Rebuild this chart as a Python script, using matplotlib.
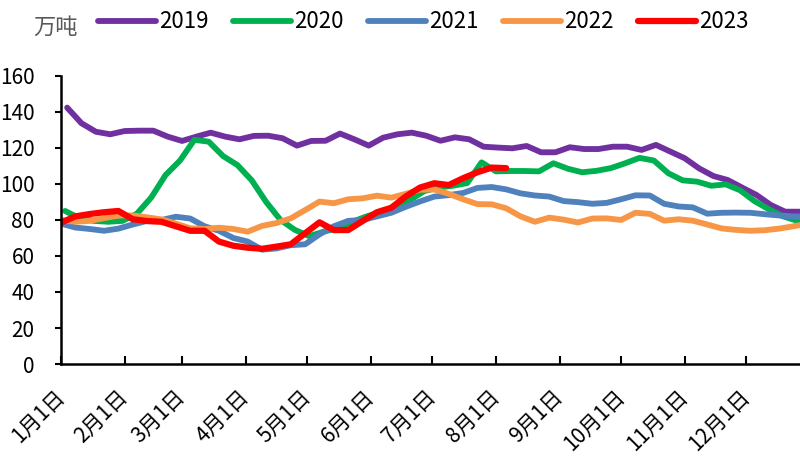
import matplotlib
matplotlib.use('Agg')
from matplotlib import pyplot as plt
import numpy as np

plt.rcParams['font.family'] = ['Noto Sans CJK SC', 'DejaVu Sans']

# weekly inventory, 万吨
years = ['2019', '2020', '2021', '2022', '2023']
colors = ['#7030A0', '#00B050', '#4F81BD', '#F79646', '#FF0000']
start_day = [3, 2, 0, 0, 0]   # day of year of first weekly point

v2019 = [142.4, 133.7, 129.0, 127.6, 129.4, 129.6, 129.6, 126.3, 123.9, 126.3,
         128.5, 126.3, 124.8, 126.7, 126.8, 125.4, 121.3, 123.9, 124.0, 128.0,
         124.8, 121.3, 125.7, 127.6, 128.5, 126.8, 124.0, 125.9, 124.8, 120.7,
         120.2, 119.8, 121.1, 117.6, 117.6, 120.4, 119.4, 119.4, 120.7, 120.7,
         118.9, 121.7, 118.0, 114.3, 108.7, 104.4, 102.2, 98.0, 93.9, 88.3,
         84.6, 84.6]
v2020 = [85.0, 81.0, 79.5, 79.0, 79.5, 83.5, 92.5, 105.0, 113.0, 124.5,
         123.5, 115.5, 110.5, 102.0, 90.0, 80.0, 74.5, 71.0, 73.5, 75.5,
         79.0, 82.0, 84.5, 86.5, 91.0, 96.0, 98.0, 99.0, 100.5, 112.0,
         107.0, 107.2, 107.2, 107.0, 111.5, 108.5, 106.5, 107.3, 108.8, 111.5,
         114.5, 113.0, 106.0, 102.0, 101.3, 99.0, 99.8, 96.5, 90.5, 86.0,
         82.0, 79.5]
v2021 = [78.0, 75.8, 75.0, 74.0, 75.2, 77.5, 79.5, 80.0, 81.8, 80.8,
         76.5, 74.0, 70.0, 68.0, 63.5, 64.2, 66.0, 66.5, 72.0, 76.5,
         79.5, 80.0, 82.0, 84.0, 87.3, 90.3, 93.0, 93.8, 95.0, 97.8,
         98.3, 97.0, 94.8, 93.6, 93.0, 90.5, 89.9, 89.0, 89.5, 91.5,
         93.7, 93.6, 89.0, 87.5, 87.0, 83.5, 84.0, 84.1, 84.0, 83.2,
         82.5, 82.0, 81.8]
v2022 = [80.0, 79.0, 79.5, 81.0, 82.5, 82.5, 81.5, 80.3, 78.0, 75.4,
         75.0, 75.7, 75.0, 73.5, 76.7, 78.3, 80.9, 85.5, 90.2, 89.3,
         91.5, 92.0, 93.5, 92.4, 94.5, 96.8, 96.9, 94.5, 91.5, 88.8,
         88.7, 86.5, 82.0, 79.0, 81.3, 80.2, 78.6, 80.8, 80.9, 80.0,
         84.0, 83.4, 79.6, 80.4, 79.6, 77.5, 75.3, 74.5, 74.0, 74.3,
         75.2, 76.5, 78.0]
v2023 = [78.5, 82.0, 83.3, 84.3, 85.0, 80.4, 79.4, 79.0, 76.5, 74.0,
         74.0, 68.0, 65.7, 64.6, 64.0, 65.2, 66.5, 72.6, 78.7, 74.4,
         74.4, 79.4, 84.3, 86.8, 93.0, 98.0, 100.4, 99.4, 103.2, 106.5,
         109.1, 108.8]
series = [v2019, v2020, v2021, v2022, v2023]

month_days = [0, 31, 59, 90, 120, 151, 181, 212, 243, 273, 304, 334]
month_labels = [f'{m}月1日' for m in range(1, 13)]


def main():
    fig = plt.figure(figsize=(8, 4.58), dpi=100)
    ax = fig.add_axes([0.07625, 0.2052, 0.936, 0.629])

    for name, vals, c, d0 in zip(years, series, colors, start_day):
        x = d0 + 7 * np.arange(len(vals))
        lw = 4.5 if name == '2023' else 4.2
        ax.plot(x, vals, color=c, lw=lw, label=name,
                solid_capstyle='round', solid_joinstyle='round')

    ax.set_xlim(0, 365)
    ax.set_ylim(0, 160)
    ax.set_yticks(range(0, 161, 20))
    ax.set_xticks(month_days)
    ax.set_xticklabels(month_labels, rotation=45, ha='right', va='center',
                       rotation_mode='anchor')

    for s in ['top', 'right']:
        ax.spines[s].set_visible(False)
    for s in ['left', 'bottom']:
        ax.spines[s].set_linewidth(1.8)
    ax.tick_params(axis='y', direction='out', length=4, width=1.5,
                   labelsize=15, pad=15)
    ax.tick_params(axis='x', direction='in', length=6, width=1.5,
                   labelsize=15, pad=21)

    fig.legend(loc='center', bbox_to_anchor=(0.529, 0.952), ncol=5,
               frameon=False, fontsize=16, handlelength=2.6,
               handletextpad=0.15, columnspacing=1.1, borderaxespad=0)
    fig.text(0.041, 0.94, '万吨', fontsize=16, color='#595959', va='center')

    fig.savefig('out.png', dpi=100)


if __name__ == '__main__':
    main()
